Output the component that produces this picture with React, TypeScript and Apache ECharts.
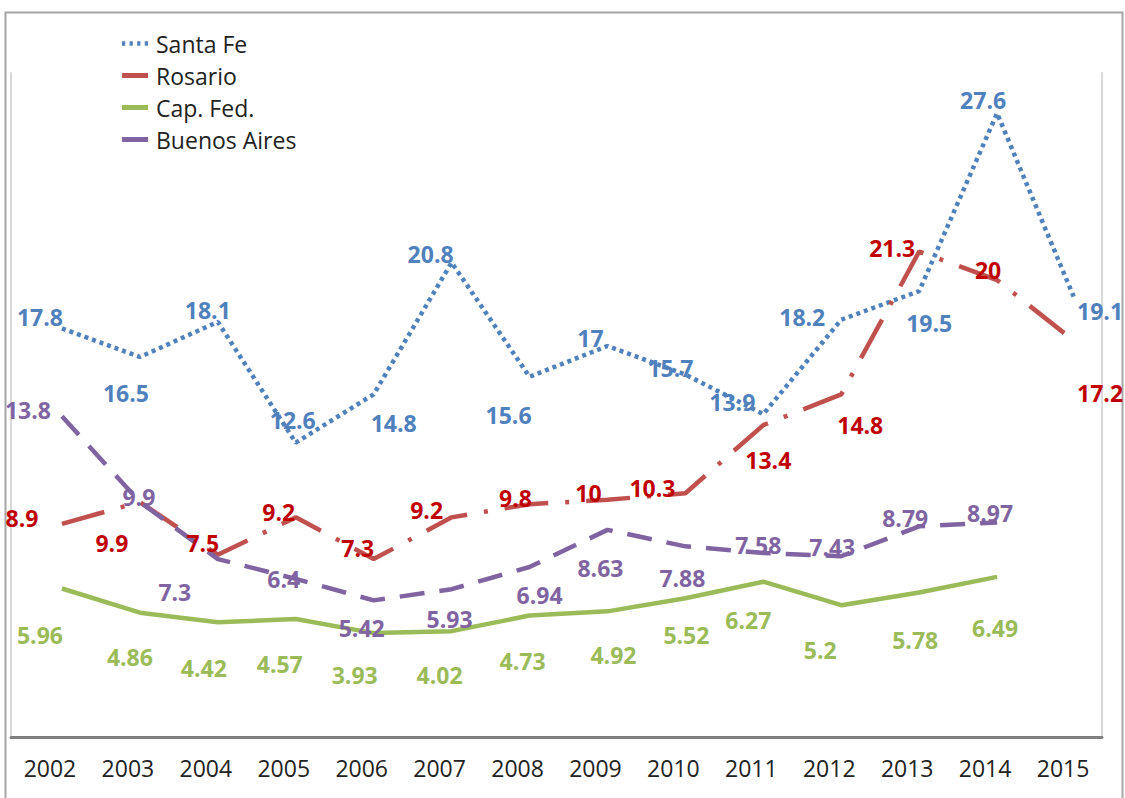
import React, { useEffect, useRef } from "react";
import * as echarts from "echarts";

const years = ["2002", "2003", "2004", "2005", "2006", "2007", "2008", "2009", "2010", "2011", "2012", "2013", "2014", "2015"];
const santaFe = [17.8, 16.5, 18.1, 12.6, 14.8, 20.8, 15.6, 17, 15.7, 13.9, 18.2, 19.5, 27.6, 19.1];
const rosario = [8.9, 9.9, 7.5, 9.2, 7.3, 9.2, 9.8, 10, 10.3, 13.4, 14.8, 21.3, 20, 17.2];
const capFed = [5.96, 4.86, 4.42, 4.57, 3.93, 4.02, 4.73, 4.92, 5.52, 6.27, 5.2, 5.78, 6.49, null];
const buenosAires = [13.8, 9.9, 7.3, 6.4, 5.42, 5.93, 6.94, 8.63, 7.88, 7.58, 7.43, 8.79, 8.97, null];

// label offsets (styling), in px relative to each point
const santaFeOffsets = [[-22, -11], [-14, 36], [-10, -12], [-3, -23], [20, 29], [-21, -9], [-21, 38], [-17, -8], [-15, -7], [-31, -12], [-39, -3], [10, 32], [-14, -13], [25, 11]];
const rosarioOffsets = [[-40, -6], [-28, 41], [-15, -12], [-17, -5], [-16, -11], [-25, -7], [-14, -6], [-19, -7], [-33, -5], [5, 35], [19, 31], [-27, -4], [-9, -10], [25, 51]];
const capFedOffsets = [[-22, 46], [-10, 44], [-14, 46], [-16, 45], [-19, 42], [-12, 44], [-7, 45], [6, 44], [1, 37], [-15, 38], [-21, 45], [-4, 48], [-2, 51], [0, 0]];
const buenosAiresOffsets = [[-34, -6], [-1, -5], [-43, 33], [-12, 0], [-12, 28], [-2, 30], [10, 28], [-7, 38], [-3, 32], [-5, -8], [-9, -9], [-14, -8], [-7, -9], [0, 0]];

const FONT = "'Open Sans', sans-serif";

function mkData(values: (number | null)[], offsets: number[][]) {
  return values.map((v, i) => (v === null ? null : { value: v, label: { offset: offsets[i] } }));
}

function mkSeries(name: string, values: (number | null)[], offsets: number[][], color: string, labelColor: string, dash: any) {
  return {
    name,
    type: "line",
    xAxisIndex: 1,
    yAxisIndex: 1,
    data: mkData(values, offsets),
    symbol: "circle",
    symbolSize: 0,
    showSymbol: true,
    itemStyle: { color },
    lineStyle: { color, width: 4.5, type: dash, cap: "butt" },
    label: {
      show: true,
      position: "inside",
      color: labelColor,
      fontFamily: FONT,
      fontWeight: "bold",
      fontSize: 23,
    },
    emphasis: { disabled: true },
  };
}

export default function App() {
  const ref = useRef<HTMLDivElement>(null);
  useEffect(() => {
    const chart = echarts.init(ref.current!, null, { renderer: "svg" });
    chart.setOption({
      animation: false,
      backgroundColor: "#ffffff",
      graphic: [
        {
          type: "rect",
          shape: { x: 5.5, y: 12.5, width: 1117, height: 800 },
          style: { fill: "none", stroke: "#a6a6a6", lineWidth: 2 },
          silent: true,
        },
      ],
      legend: {
        orient: "vertical",
        left: 117,
        top: 27,
        itemWidth: 26,
        itemHeight: 5,
        itemGap: 9,
        textStyle: { fontFamily: FONT, fontSize: 23, lineHeight: 23, color: "#222", padding: [0, 0, 0, 3] },
        data: [
          { name: "Santa Fe", icon: "path://M0,0h3v4h-3z M7,0h3v4h-3z M14,0h3v4h-3z M21,0h3v4h-3z" },
          { name: "Rosario", icon: "rect" },
          { name: "Cap. Fed.", icon: "rect" },
          { name: "Buenos Aires", icon: "rect" },
        ],
      },
      grid: [
        { left: 11, top: 73, width: 1091, height: 664 },
        { left: 23, top: 73, width: 1091, height: 664 },
      ],
      xAxis: [
        {
          type: "category",
          gridIndex: 0,
          data: years,
          boundaryGap: true,
          axisLine: { show: true, lineStyle: { color: "#7f7f7f", width: 3 } },
          axisTick: { show: false },
          axisLabel: { fontFamily: FONT, fontSize: 23, color: "#222", margin: 19 },
          splitLine: { show: false },
          z: 1,
        },
        {
          type: "category",
          gridIndex: 1,
          data: years,
          boundaryGap: true,
          show: false,
        },
      ],
      yAxis: [
        {
          type: "value",
          gridIndex: 0,
          position: "left",
          min: 0,
          max: 1,
          axisLine: { show: true, lineStyle: { color: "#d9d9d9", width: 2 } },
          axisLabel: { show: false },
          axisTick: { show: false },
          splitLine: { show: false },
        },
        {
          type: "value",
          gridIndex: 1,
          min: -0.8,
          max: 29.43,
          show: false,
          splitLine: { show: false },
        },
        {
          type: "value",
          gridIndex: 0,
          position: "right",
          min: 0,
          max: 1,
          axisLine: { show: true, lineStyle: { color: "#d9d9d9", width: 2 } },
          axisLabel: { show: false },
          axisTick: { show: false },
          splitLine: { show: false },
        },
      ],
      series: [
        mkSeries("Santa Fe", santaFe, santaFeOffsets, "#4F81BD", "#4F81BD", [4, 4]),
        mkSeries("Rosario", rosario, rosarioOffsets, "#C0504D", "#C00000", [44, 17, 4, 17]),
        mkSeries("Cap. Fed.", capFed, capFedOffsets, "#9BBB59", "#9BBB59", "solid"),
        mkSeries("Buenos Aires", buenosAires, buenosAiresOffsets, "#8064A2", "#8064A2", [25, 15]),
      ],
    });
    return () => chart.dispose();
  }, []);
  return <div ref={ref} style={{ position: "fixed", left: 0, top: 0, width: 1125, height: 798 }} />;
}
